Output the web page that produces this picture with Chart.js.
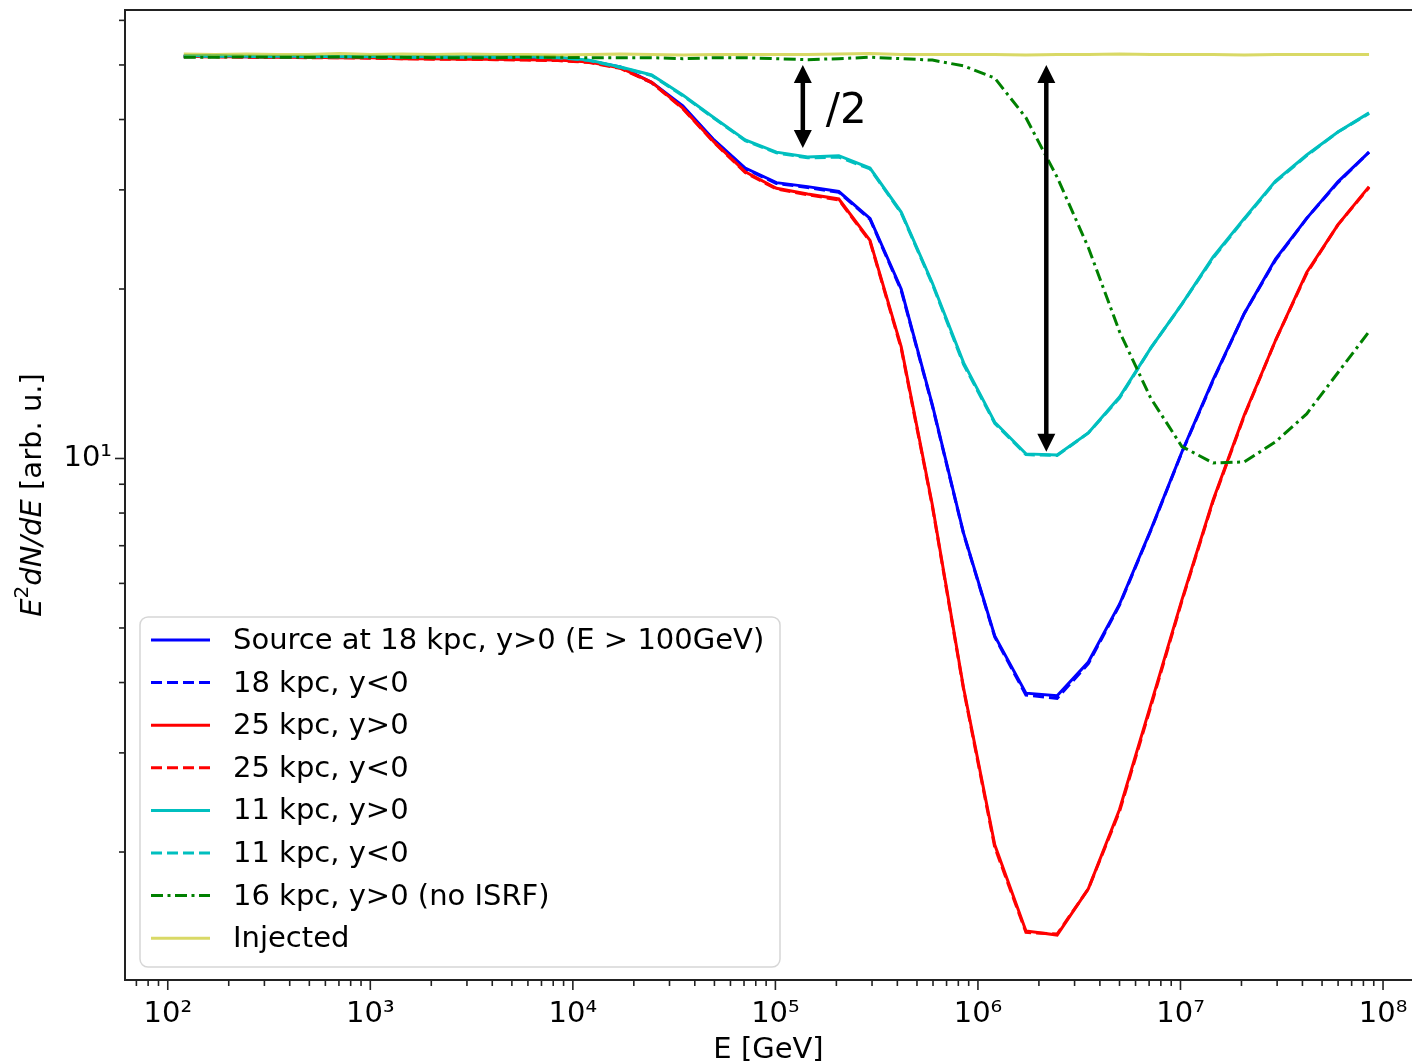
<!DOCTYPE html>
<html>
<head>
<meta charset="utf-8">
<title>E2 dN/dE spectra</title>
<script src="https://cdn.jsdelivr.net/npm/chart.js@4.4.1/dist/chart.umd.min.js"></script>
<style>
  html, body { margin: 0; padding: 0; background: #fff; }
</style>
</head>
<body>
<canvas id="spectrumChart" width="1412" height="1064"></canvas>
<script>
// energy grid [GeV]
var energy = [120, 171, 244, 348, 496, 706, 1007, 1436, 2047, 2918, 4159, 5929, 8453,
  12050, 17180, 24490, 34910, 49770, 70960, 101200, 144200, 205600, 293100, 417800,
  595600, 849100, 1210500, 1725700, 2460200, 3507200, 5000000, 7128000, 10160000,
  14490000, 20650000, 29440000, 41970000, 59840000, 85300000];

// E^2 dN/dE [arb. u.]
var src18Up = [51.8, 51.8, 51.7, 51.7, 51.7, 51.6, 51.6, 51.5, 51.5, 51.5, 51.3, 51.2, 51.1,
  50.8, 49.6, 46.6, 42.3, 36.8, 32.8, 30.9, 30.4, 29.8, 26.7, 20.0, 12.45, 7.37, 4.84,
  3.83, 3.79, 4.35, 5.51, 7.46, 10.27, 13.8, 18.1, 22.6, 26.7, 31.0, 35.0];
var src18Down = [51.7, 51.8, 51.7, 51.6, 51.7, 51.6, 51.5, 51.5, 51.4, 51.4, 51.3, 51.2, 51.0,
  50.7, 49.5, 46.5, 42.1, 36.7, 32.7, 30.8, 30.3, 29.7, 26.6, 19.9, 12.4, 7.35, 4.82,
  3.80, 3.75, 4.32, 5.49, 7.44, 10.25, 13.75, 18.1, 22.5, 26.7, 30.9, 35.0];
var src25Up = [51.8, 51.7, 51.7, 51.6, 51.6, 51.5, 51.5, 51.3, 51.3, 51.2, 51.2, 51.1, 51.0,
  50.6, 49.4, 46.6, 41.9, 36.5, 32.3, 30.2, 29.5, 28.9, 24.4, 15.8, 8.27, 3.91, 2.06,
  1.448, 1.424, 1.72, 2.38, 3.65, 5.61, 8.44, 11.95, 16.2, 21.4, 26.0, 30.4];
var src25Down = [51.7, 51.7, 51.6, 51.6, 51.5, 51.5, 51.4, 51.3, 51.2, 51.2, 51.1, 51.0, 50.9,
  50.5, 49.3, 46.5, 41.8, 36.4, 32.2, 30.1, 29.4, 28.8, 24.3, 15.7, 8.22, 3.89, 2.04,
  1.44, 1.43, 1.72, 2.36, 3.62, 5.58, 8.40, 11.9, 16.2, 21.3, 26.0, 30.3];
var src11Up = [51.9, 51.9, 51.8, 51.8, 51.8, 51.7, 51.8, 51.7, 51.7, 51.7, 51.7, 51.7, 51.6,
  51.0, 49.6, 48.0, 44.2, 40.3, 36.8, 35.0, 34.3, 34.5, 32.8, 27.4, 20.5, 14.8, 11.6,
  10.19, 10.14, 11.1, 12.86, 15.7, 18.8, 22.8, 26.7, 31.1, 34.6, 38.0, 41.1];
var src11Down = [51.8, 51.8, 51.8, 51.7, 51.7, 51.7, 51.7, 51.6, 51.6, 51.6, 51.6, 51.6, 51.5,
  50.9, 49.5, 47.9, 44.1, 40.2, 36.7, 34.9, 34.2, 34.3, 32.7, 27.3, 20.4, 14.7, 11.55,
  10.16, 10.12, 11.1, 12.8, 15.7, 18.8, 22.7, 26.6, 31.0, 34.5, 38.0, 41.0];
var src16NoIsrf = [51.6, 51.6, 51.7, 51.6, 51.6, 51.7, 51.6, 51.6, 51.5, 51.5, 51.5, 51.6, 51.6,
  51.5, 51.5, 51.5, 51.3, 51.5, 51.5, 51.3, 51.1, 51.3, 51.6, 51.3, 51.0, 49.8, 47.4,
  40.3, 31.6, 23.7, 16.8, 12.8, 10.5, 9.82, 9.86, 10.7, 12.0, 14.2, 16.8];
var injected = [52.3, 52.2, 52.3, 52.2, 52.2, 52.4, 52.2, 52.3, 52.2, 52.3, 52.2, 52.2, 52.1,
  52.2, 52.3, 52.2, 52.1, 52.2, 52.2, 52.2, 52.2, 52.3, 52.4, 52.2, 52.2, 52.2, 52.2,
  52.1, 52.2, 52.2, 52.3, 52.2, 52.2, 52.2, 52.1, 52.2, 52.2, 52.2, 52.2];

var seriesLabels = ['Source at 18 kpc, y>0 (E > 100GeV)', '18 kpc, y<0', '25 kpc, y>0',
  '25 kpc, y<0', '11 kpc, y>0', '11 kpc, y<0', '16 kpc, y>0 (no ISRF)', 'Injected'];

// double arrows: energy, upper and lower value
var arrowEnergy = [136600, 2175000];
var arrowTop = [50.0, 50.0];
var arrowBottom = [35.6, 10.28];

// axis limits
var xMin = 61.5, xMax = 1.39e8;
var yMin = 1.185, yMax = 62.6;

var FONT = '"DejaVu Sans", "Liberation Sans", sans-serif';
var FS = 29;

var SUP = {'0': '⁰', '1': '¹', '2': '²', '3': '³', '4': '⁴', '5': '⁵', '6': '⁶', '7': '⁷', '8': '⁸', '9': '⁹', '-': '⁻'};
function pow10Label(v) {
    var p = Math.log10(v);
    if (Math.abs(p - Math.round(p)) > 1e-9) return '';
    return '10' + String(Math.round(p)).split('').map(function (c) { return SUP[c]; }).join('');
}
function isDecade(v) {
    var p = Math.log10(v);
    return Math.abs(p - Math.round(p)) < 1e-9;
}
function logTicks(min, max) {
    var out = [];
    for (var p = Math.floor(Math.log10(min)); p <= Math.ceil(Math.log10(max)); p++) {
        for (var m = 1; m < 10; m++) {
            var v = m * Math.pow(10, p);
            if (v >= min && v <= max) out.push({ value: v, major: m === 1 });
        }
    }
    return out;
}
function pts(arr) {
    return energy.map(function (e, i) { return { x: e, y: arr[i] }; });
}
function noPadding(scale) {
    scale.paddingLeft = 0;
    scale.paddingRight = 0;
    scale.paddingTop = 0;
    scale.paddingBottom = 0;
}

var frame = {
    id: 'frame',
    afterDraw: function (chart) {
        var ctx = chart.ctx, a = chart.chartArea;
        var xs = chart.scales.x, ys = chart.scales.y;
        ctx.save();
        ctx.strokeStyle = '#222';
        ctx.lineWidth = 1.6;
        xs.ticks.forEach(function (t) {
            var px = xs.getPixelForValue(t.value);
            if (px < a.left || px > a.right) return;
            var len = isDecade(t.value) ? 10 : 6;
            ctx.beginPath();
            ctx.moveTo(px, a.bottom);
            ctx.lineTo(px, a.bottom + len);
            ctx.stroke();
        });
        ys.ticks.forEach(function (t) {
            var py = ys.getPixelForValue(t.value);
            if (py < a.top || py > a.bottom) return;
            var len = isDecade(t.value) ? 10 : 6;
            ctx.beginPath();
            ctx.moveTo(a.left, py);
            ctx.lineTo(a.left - len, py);
            ctx.stroke();
        });
        // top spine
        ctx.lineWidth = 2;
        ctx.beginPath();
        ctx.moveTo(a.left, a.top);
        ctx.lineTo(a.right, a.top);
        ctx.stroke();

        // y axis title with math part
        var parts = [
            { t: 'E', f: 'italic ' + FS + 'px ' + FONT, dy: 0 },
            { t: '2', f: '20px ' + FONT, dy: -10 },
            { t: 'dN/dE', f: 'italic ' + FS + 'px ' + FONT, dy: 0 },
            { t: ' [arb. u.]', f: FS + 'px ' + FONT, dy: 0 }
        ];
        var total = 0;
        parts.forEach(function (p) { ctx.font = p.f; p.w = ctx.measureText(p.t).width; total += p.w; });
        ctx.translate(33, (a.top + a.bottom) / 2);
        ctx.rotate(-Math.PI / 2);
        ctx.textBaseline = 'middle';
        ctx.fillStyle = '#000';
        var x = -total / 2;
        parts.forEach(function (p) { ctx.font = p.f; ctx.fillText(p.t, x, p.dy); x += p.w; });
        ctx.restore();
    }
};

var notes = {
    id: 'notes',
    afterDatasetsDraw: function (chart) {
        var ctx = chart.ctx, a = chart.chartArea;
        var xs = chart.scales.x, ys = chart.scales.y;
        ctx.save();
        ctx.fillStyle = '#000';
        ctx.strokeStyle = '#000';
        arrowEnergy.forEach(function (e, i) {
            var x = xs.getPixelForValue(e);
            var y1 = ys.getPixelForValue(arrowTop[i]);
            var y2 = ys.getPixelForValue(arrowBottom[i]);
            var hl = 18, hw = 9;
            ctx.lineWidth = 4.5;
            ctx.beginPath();
            ctx.moveTo(x, y1 + hl - 2);
            ctx.lineTo(x, y2 - hl + 2);
            ctx.stroke();
            ctx.beginPath();
            ctx.moveTo(x, y1);
            ctx.lineTo(x - hw, y1 + hl);
            ctx.lineTo(x + hw, y1 + hl);
            ctx.closePath();
            ctx.fill();
            ctx.beginPath();
            ctx.moveTo(x, y2);
            ctx.lineTo(x - hw, y2 - hl);
            ctx.lineTo(x + hw, y2 - hl);
            ctx.closePath();
            ctx.fill();
        });
        ctx.font = '42px ' + FONT;
        ctx.textBaseline = 'middle';
        ctx.textAlign = 'left';
        ctx.fillText('/2', xs.getPixelForValue(177400), ys.getPixelForValue(41.3));

        // legend box
        var ds = chart.data.datasets;
        var bx = a.left + 15, bw = 640, bh = 350, by = a.bottom - 13 - bh, r = 8;
        ctx.beginPath();
        ctx.moveTo(bx + r, by);
        ctx.arcTo(bx + bw, by, bx + bw, by + bh, r);
        ctx.arcTo(bx + bw, by + bh, bx, by + bh, r);
        ctx.arcTo(bx, by + bh, bx, by, r);
        ctx.arcTo(bx, by, bx + bw, by, r);
        ctx.closePath();
        ctx.fillStyle = 'rgba(255,255,255,0.8)';
        ctx.fill();
        ctx.lineWidth = 1.5;
        ctx.strokeStyle = 'rgba(204,204,204,0.8)';
        ctx.stroke();
        ctx.font = FS + 'px ' + FONT;
        ds.forEach(function (d, i) {
            var cy = by + 23 + i * 42.6;
            ctx.setLineDash(d.borderDash || []);
            ctx.strokeStyle = d.borderColor;
            ctx.lineWidth = d.borderWidth;
            ctx.beginPath();
            ctx.moveTo(bx + 11, cy);
            ctx.lineTo(bx + 70, cy);
            ctx.stroke();
            ctx.setLineDash([]);
            ctx.fillStyle = '#000';
            ctx.fillText(d.label, bx + 93, cy + 1.5);
        });
        ctx.restore();
    }
};

var colors = ['#0000ff', '#0000ff', '#ff0000', '#ff0000', '#00bfbf', '#00bfbf', '#008000', 'rgba(191,191,0,0.6)'];
var dashes = [[], [11, 5], [], [11, 5], [], [11, 5], [12, 4.5, 3, 4.5], []];
var values = [src18Up, src18Down, src25Up, src25Down, src11Up, src11Down, src16NoIsrf, injected];

var datasets = values.map(function (v, i) {
    return {
        label: seriesLabels[i],
        data: pts(v),
        borderColor: colors[i],
        borderWidth: 3,
        borderDash: dashes[i],
        pointRadius: 0,
        tension: 0,
        fill: false,
        order: values.length - i
    };
});

var ctx = document.getElementById('spectrumChart').getContext('2d');
var spectrumChart = new Chart(ctx, {
    type: 'line',
    data: { datasets: datasets },
    plugins: [frame, notes],
    options: {
        responsive: false,
        animation: false,
        devicePixelRatio: 1,
        layout: { padding: { top: 10, right: 0, left: 0, bottom: 0 } },
        plugins: { legend: { display: false }, tooltip: { enabled: false } },
        scales: {
            x: {
                type: 'logarithmic',
                min: xMin,
                max: xMax,
                afterBuildTicks: function (scale) { scale.ticks = logTicks(scale.min, scale.max); },
                afterFit: function (scale) { scale.height = 84; noPadding(scale); },
                grid: { display: false, drawTicks: false },
                border: { display: true, color: '#222', width: 2 },
                ticks: {
                    autoSkip: false,
                    maxRotation: 0,
                    padding: 17,
                    color: '#000',
                    font: { family: FONT, size: FS },
                    callback: function (v) { return pow10Label(v); }
                },
                title: {
                    display: true,
                    text: 'E [GeV]',
                    color: '#000',
                    font: { family: FONT, size: FS, lineHeight: 0.9 },
                    padding: { top: 0, bottom: 0 }
                }
            },
            y: {
                type: 'logarithmic',
                min: yMin,
                max: yMax,
                afterBuildTicks: function (scale) { scale.ticks = logTicks(scale.min, scale.max); },
                afterFit: function (scale) { scale.width = 125; noPadding(scale); },
                grid: { display: false, drawTicks: false },
                border: { display: true, color: '#222', width: 2 },
                ticks: {
                    autoSkip: false,
                    padding: 13,
                    color: '#000',
                    font: { family: FONT, size: FS },
                    callback: function (v) { return pow10Label(v); }
                }
            }
        }
    }
});
</script>
</body>
</html>
